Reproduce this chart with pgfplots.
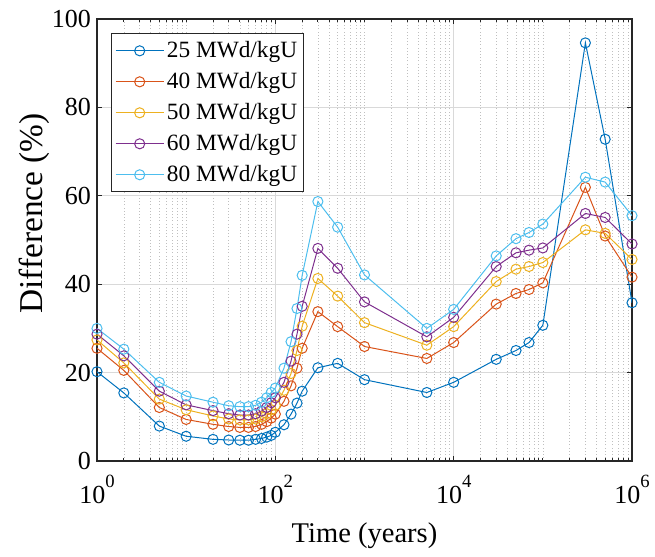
\documentclass[border=0pt]{standalone}
\usepackage{fontspec}
\setmainfont{Liberation Serif}
\usepackage{pgfplots}
\usepackage{pgfplotstable}
\pgfplotsset{compat=1.18}
\definecolor{c1}{rgb}{0,0.447,0.741}
\definecolor{c2}{rgb}{0.850,0.325,0.098}
\definecolor{c3}{rgb}{0.929,0.694,0.125}
\definecolor{c4}{rgb}{0.494,0.184,0.556}
\definecolor{c5}{rgb}{0.301,0.745,0.933}
\definecolor{axc}{rgb}{0.15,0.15,0.15}
\newcommand{\expo}[1]{\raisebox{0.62em}{\fontsize{14}{14}\selectfont #1}}
\pgfplotstableread{
x       a     b     c     d     e
1       20.2  25.5  27.4  28.7  30.0
2       15.4  20.5  22.2  23.8  25.3
5       7.9   12.1  14.0  15.8  17.8
10      5.6   9.4   11.6  12.7  14.7
20      4.9   8.3   10.2  11.4  13.3
30      4.75  7.8   9.5   10.7  12.5
40      4.7   7.6   9.3   10.4  12.3
50      4.7   7.6   9.3   10.4  12.3
60      4.9   7.8   9.5   10.7  12.6
70      5.1   8.3   10.0  11.3  13.3
80      5.4   8.9   10.7  12.1  14.3
90      5.8   9.7   11.6  13.2  15.5
100     6.5   10.6  12.6  14.3  16.5
125     8.2   13.5  16.0  17.8  21.0
150     10.6  17.0  19.8  22.6  27.0
175     13.1  21.0  25.0  28.7  34.5
200     15.8  25.5  30.5  35.0  42.0
300     21.1  33.8  41.3  48.1  58.7
500     22.1  30.4  37.3  43.6  52.9
1000    18.4  25.9  31.3  36.0  42.1
5000    15.5  23.2  26.2  28.1  30.0
10000   17.8  26.8  30.4  32.5  34.3
30000   23.0  35.5  40.6  44.0  46.4
50000   25.0  37.9  43.4  47.1  50.3
70000   26.8  38.8  44.0  47.7  51.7
100000  30.7  40.3  44.9  48.2  53.6
300000  94.6  61.9  52.3  56.0  64.2
500000  72.8  50.9  51.5  55.1  63.1
1000000 35.8  41.6  45.6  49.1  55.5
}\datatable
\begin{document}
\begin{tikzpicture}
\begin{semilogxaxis}[
  scale only axis,
  width=401.25pt, height=331.5pt,
  xmin=1, xmax=1000000, ymin=0, ymax=100,
  xtick={1,100,10000,1000000},
  xticklabels={10\expo{0},10\expo{2},10\expo{4},10\expo{6}},
  minor xtick={2,3,4,5,6,7,8,9,10,20,30,40,50,60,70,80,90,200,300,400,500,600,700,800,900,1000,2000,3000,4000,5000,6000,7000,8000,9000,20000,30000,40000,50000,60000,70000,80000,90000,100000,200000,300000,400000,500000,600000,700000,800000,900000},
  ytick={0,20,40,60,80,100},
  yticklabels={0,20,40,60,80,100},
  tick label style={font=\fontsize{19.5}{22}\selectfont, text=black},
  xticklabel style={yshift=-7pt},
  yticklabel style={xshift=-1pt},
  tick align=inside,
  major tick length=3.75pt,
  minor tick length=2.2pt,
  every tick/.style={axc, line width=0.6pt},
  axis line style={axc, line width=0.8pt},
  grid=both,
  major grid style={solid, color=black!15, line width=0.7pt},
  minor grid style={dotted, color=black!25, line width=0.5pt},
  xlabel={Time (years)},
  ylabel={Difference (\%)},
  xlabel style={font=\fontsize{21.4}{24}\selectfont, at={(axis description cs:0.5,0)}, anchor=base, yshift=-60.75pt},
  ylabel style={font=\fontsize{25}{28}\selectfont, at={(axis description cs:-0.1028,0.56)}, anchor=base},
  legend style={at={(axis description cs:0,1)}, anchor=north west, xshift=10.3pt, yshift=-10.7pt,
    font=\fontsize{17.5}{20}\selectfont, draw=axc, line width=0.7pt, fill=white,
    row sep=5.6pt, inner xsep=3pt, inner ysep=4pt},
  legend cell align=left,
  legend image code/.code={\draw[#1, mark repeat=2, mark phase=2] plot coordinates {(0pt,0pt) (18pt,0pt) (36pt,0pt)};},
  every axis plot/.append style={line width=0.75pt, mark=o, mark size=3.8pt, mark options={solid, line width=0.75pt}},
]
\addplot[c1] table[x=x,y=a]{\datatable};
\addlegendentry{25 MWd/kgU}
\addplot[c2] table[x=x,y=b]{\datatable};
\addlegendentry{40 MWd/kgU}
\addplot[c3] table[x=x,y=c]{\datatable};
\addlegendentry{50 MWd/kgU}
\addplot[c4] table[x=x,y=d]{\datatable};
\addlegendentry{60 MWd/kgU}
\addplot[c5] table[x=x,y=e]{\datatable};
\addlegendentry{80 MWd/kgU}
\end{semilogxaxis}
\pgfresetboundingbox
\path[use as bounding box] ([xshift=-72.75pt,yshift=-71.25pt]current axis.south west) rectangle ([xshift=17.25pt,yshift=14.25pt]current axis.north east);
\end{tikzpicture}
\end{document}
